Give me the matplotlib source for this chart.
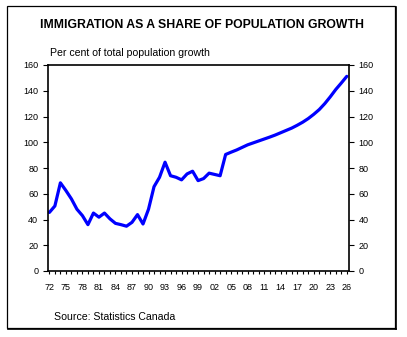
import matplotlib
matplotlib.use("Agg")
import matplotlib.pyplot as plt
from matplotlib.patches import Rectangle
from matplotlib.lines import Line2D

plt.rcParams['font.family'] = ['Liberation Sans', 'DejaVu Sans']

years = list(range(1972, 2027))
share = [45.5, 50.5, 68.5, 62.5, 56, 48, 43, 36, 45, 41.8, 45, 40.5, 37, 36, 34.8, 37.8, 43.8, 36.5,
         48, 65.5, 72.8, 84.5, 74, 72.8, 70.8, 75.4, 77.5, 70.2,
         71.8, 76, 75, 74, 90.5, 92.3, 94, 96, 98, 99.5, 101, 102.5, 104, 105.6, 107.4, 109.2,
         111, 113.2, 115.6, 118.4, 121.7, 125.4, 130, 135.3, 141, 146, 151.2]
tick_years = list(range(1972, 2027, 3))
tick_labels = [f"{y % 100:02d}" for y in tick_years]
y_ticks = [0, 20, 40, 60, 80, 100, 120, 140, 160]

W, H = 407, 337
fig = plt.figure(figsize=(W / 100, H / 100), dpi=100)

ax = fig.add_axes([48 / W, 1 - 271 / H, 301 / W, 206 / H])
ax.plot(years, share, color='#0000ff', lw=2.3, solid_capstyle='round', solid_joinstyle='round')
ax.set_xlim(1971.75, 2026.4)
ax.set_ylim(0, 160)
ax.set_yticks(y_ticks)
ax.set_xticks(tick_years)
ax.set_xticklabels(tick_labels)
ax.set_xticks(years, minor=True)
ax.tick_params(axis='y', which='both', direction='out', length=3.5, width=0.8, labelsize=6.5,
               left=True, right=True, labelleft=True, labelright=True, pad=3.5)
ax.tick_params(axis='x', which='major', direction='out', length=2.5, width=0.8, labelsize=6.5, pad=6)
ax.tick_params(axis='x', which='minor', direction='out', length=2.5, width=0.8)
for s in ax.spines.values():
    s.set_linewidth(1.2)
    s.set_color('black')

fig.text(202 / W, 1 - 25 / H, "IMMIGRATION AS A SHARE OF POPULATION GROWTH",
         ha='center', va='center', fontsize=8.8, fontweight='bold')
fig.text(50 / W, 1 - 53 / H, "Per cent of total population growth",
         ha='left', va='center', fontsize=7.6)
fig.text(54 / W, 1 - 317 / H, "Source: Statistics Canada",
         ha='left', va='center', fontsize=7.6)

# outer frame with shadow
fig.patches.append(Rectangle((7 / W, 1 - 328 / H), 388 / W, 322 / H, transform=fig.transFigure,
                             fill=False, edgecolor='black', lw=0.9))
fig.lines.append(Line2D([396 / W, 396 / W], [1 - 329 / H, 1 - 7 / H], transform=fig.transFigure,
                        color='black', lw=1.2))
fig.lines.append(Line2D([8 / W, 396 / W], [1 - 329 / H, 1 - 329 / H], transform=fig.transFigure,
                        color='black', lw=1.2))

fig.savefig("out.png", dpi=100)
